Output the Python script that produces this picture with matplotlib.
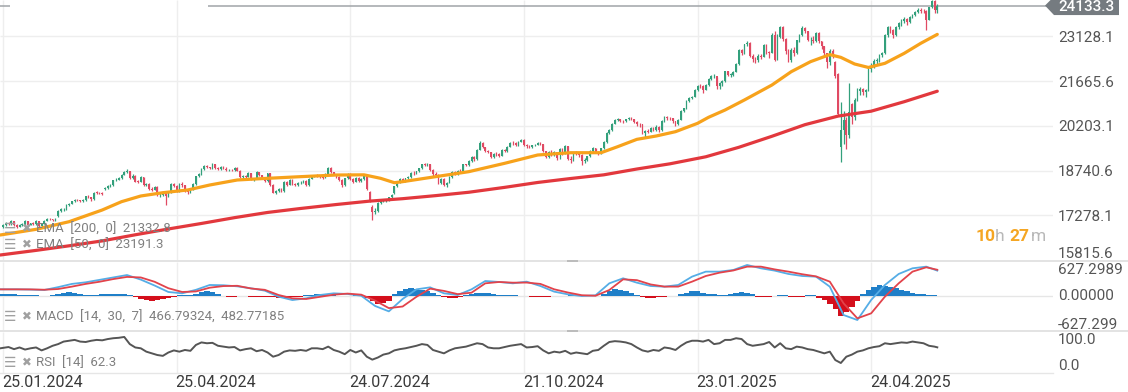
import matplotlib
matplotlib.use("Agg")
import matplotlib.pyplot as plt
from matplotlib.patches import Polygon, Rectangle
import numpy as np

W, H, DPI = 1128, 392, 100

# ---------------- data ----------------
opens = [16890, 16956, 17011, 16992, 17087, 16954, 16909, 16968, 16976, 17083,
         16972, 17013, 16977, 17087, 16931, 16996, 17097, 17167, 17143, 17118,
         17250, 17420, 17469, 17474, 17606, 17651, 17728, 17785, 17766, 17748,
         17766, 17893, 17865, 17796, 18015, 18011, 17992, 18150, 18183, 18233,
         18257, 18417, 18440, 18491, 18610, 18699, 18710, 18497, 18577, 18381,
         18377, 18516, 18271, 18287, 18141, 18112, 18204, 17940, 17940, 18003,
         17899, 18018, 18291, 18238, 18063, 18303, 18256, 18066, 18026, 18127,
         18297, 18548, 18612, 18796, 18879, 18844, 18814, 18963, 18828, 18790,
         18850, 18804, 18754, 18761, 18759, 18837, 18735, 18527, 18546, 18544,
         18650, 18443, 18464, 18682, 18583, 18516, 18387, 18644, 18275, 18008,
         18070, 18131, 18067, 18374, 18281, 18441, 18290, 18268, 18322, 18344,
         18398, 18269, 18477, 18552, 18575, 18570, 18526, 18501, 18626, 18839,
         18679, 18605, 18522, 18437, 18252, 18486, 18636, 18463, 18373, 18490,
         18390, 18479, 18574, 18040, 17560, 17400, 17413, 17672, 17735, 17776,
         17778, 17862, 17990, 18229, 18366, 18463, 18398, 18487, 18531, 18668,
         18650, 18713, 18812, 18940, 18932, 18954, 18769, 18612, 18594, 18319,
         18458, 18279, 18341, 18527, 18706, 18639, 18730, 18713, 18940, 18917,
         19041, 19188, 19106, 19423, 19656, 19503, 19388, 19336, 19184, 19287,
         19267, 19226, 19411, 19364, 19524, 19656, 19631, 19574, 19680, 19740,
         19560, 19550, 19503, 19566, 19584, 19649, 19593, 19368, 19186, 19360,
         19250, 19354, 19300, 19454, 19304, 19534, 19117, 19084, 19341, 19285,
         19260, 19056, 19069, 19209, 19381, 19461, 19348, 19310, 19472, 19669,
         19974, 20054, 20266, 20389, 20413, 20371, 20351, 20417, 20442, 20418,
         20323, 20253, 20246, 19970, 20045, 20006, 20140, 20061, 20174, 20053,
         20360, 20481, 20469, 20453, 20348, 20263, 20399, 20700, 20778, 21023,
         21107, 21157, 21366, 21520, 21501, 21386, 21531, 21736, 21823, 21825,
         21519, 21593, 21670, 21985, 21867, 21877, 21975, 22220, 22681, 22580,
         22862, 22905, 22492, 22371, 22340, 22477, 22458, 22839, 22593, 22591,
         23184, 22362, 23113, 23448, 23036, 22644, 22349, 22695, 22583, 23000,
         23165, 23388, 23293, 23002, 23022, 22980, 23235, 22963, 22801, 22581,
         22281, 22655, 22300, 21900, 19500, 20050, 20386, 19900, 20900, 20474,
         21052, 21349, 21405, 21297, 21384, 22050, 22150, 22326, 22354, 22505,
         22575, 23163, 23418, 23321, 23186, 23420, 23565, 23631, 23700, 23587,
         23753, 23823, 23910, 23990, 23960, 23950, 23676, 24072, 24268, 23973]

highs = [16990, 17050, 17060, 17110, 17100, 16990, 17000, 17020, 17110, 17100,
         17040, 17050, 17110, 17100, 17020, 17120, 17190, 17200, 17170, 17190,
         17440, 17500, 17520, 17630, 17680, 17760, 17820, 17810, 17790, 17800,
         17920, 17930, 17880, 18040, 18060, 18050, 18030, 18210, 18260, 18300,
         18440, 18480, 18520, 18640, 18730, 18800, 18740, 18620, 18600, 18430,
         18550, 18540, 18340, 18320, 18190, 18250, 18220, 18020, 18050, 18030,
         18060, 18320, 18330, 18260, 18340, 18350, 18280, 18110, 18160, 18320,
         18570, 18650, 18820, 18910, 18910, 18870, 18990, 18970, 18860, 18880,
         18880, 18840, 18800, 18800, 18870, 18850, 18750, 18600, 18600, 18700,
         18670, 18500, 18710, 18700, 18600, 18540, 18670, 18650, 18300, 18120,
         18170, 18180, 18400, 18400, 18470, 18460, 18320, 18350, 18400, 18430,
         18420, 18500, 18580, 18610, 18620, 18590, 18560, 18650, 18870, 18850,
         18700, 18640, 18560, 18460, 18510, 18670, 18660, 18500, 18520, 18520,
         18510, 18600, 18600, 18080, 17600, 17520, 17700, 17800, 17820, 17810,
         17890, 17970, 18250, 18400, 18500, 18480, 18510, 18570, 18700, 18720,
         18740, 18830, 18970, 18990, 18990, 18960, 18780, 18680, 18620, 18490,
         18480, 18380, 18560, 18720, 18720, 18760, 18800, 18970, 18970, 19070,
         19210, 19200, 19450, 19690, 19680, 19520, 19420, 19350, 19310, 19330,
         19300, 19430, 19440, 19550, 19680, 19700, 19660, 19700, 19760, 19760,
         19600, 19580, 19590, 19620, 19680, 19670, 19600, 19380, 19380, 19400,
         19380, 19360, 19480, 19470, 19560, 19540, 19200, 19360, 19380, 19310,
         19270, 19150, 19230, 19400, 19520, 19470, 19380, 19490, 19690, 19990,
         20100, 20290, 20420, 20470, 20440, 20400, 20440, 20480, 20480, 20430,
         20350, 20300, 20260, 20080, 20090, 20170, 20150, 20220, 20180, 20390,
         20520, 20520, 20500, 20470, 20350, 20430, 20720, 20800, 21050, 21130,
         21190, 21400, 21550, 21580, 21530, 21560, 21760, 21850, 21900, 21800,
         21640, 21700, 22010, 22000, 21920, 22000, 22250, 22700, 22720, 22890,
         22960, 22930, 22560, 22450, 22560, 22560, 22870, 22880, 22650, 23230,
         23300, 23200, 23480, 23470, 23060, 22700, 22760, 22780, 23020, 23200,
         23480, 23420, 23310, 23100, 23150, 23260, 23280, 22990, 22820, 22590,
         22700, 22720, 22310, 21930, 20980, 20700, 20500, 21600, 20950, 21100,
         21450, 21480, 21440, 21420, 22080, 22250, 22370, 22420, 22540, 22620,
         23200, 23460, 23450, 23380, 23460, 23600, 23680, 23760, 23740, 23780,
         23860, 23960, 24040, 24050, 24010, 24000, 24100, 24300, 24300, 24200]

lows = [16870, 16930, 16960, 16970, 16930, 16870, 16890, 16930, 16950, 16950,
        16950, 16950, 16960, 16880, 16900, 16980, 17080, 17120, 17090, 17090,
        17230, 17390, 17430, 17460, 17580, 17630, 17700, 17730, 17700, 17710,
        17740, 17840, 17760, 17780, 17960, 17960, 17950, 18120, 18150, 18200,
        18240, 18390, 18420, 18470, 18590, 18650, 18470, 18470, 18360, 18320,
        18350, 18240, 18230, 18120, 18070, 18090, 17920, 17880, 17900, 17620,
        17870, 18000, 18200, 18030, 18040, 18210, 18040, 17980, 18000, 18110,
        18280, 18520, 18590, 18770, 18810, 18780, 18800, 18800, 18760, 18770,
        18780, 18730, 18720, 18720, 18740, 18710, 18500, 18470, 18480, 18520,
        18420, 18400, 18450, 18560, 18490, 18350, 18370, 18250, 17990, 17980,
        18040, 18040, 18050, 18250, 18260, 18270, 18230, 18240, 18300, 18320,
        18240, 18250, 18460, 18530, 18530, 18490, 18470, 18480, 18610, 18650,
        18580, 18500, 18400, 18200, 18230, 18470, 18440, 18320, 18350, 18360,
        18360, 18440, 18120, 17700, 17120, 17320, 17390, 17640, 17700, 17720,
        17750, 17840, 17970, 18200, 18340, 18370, 18380, 18460, 18500, 18610,
        18620, 18690, 18790, 18890, 18900, 18740, 18570, 18560, 18300, 18290,
        18220, 18200, 18330, 18500, 18600, 18600, 18650, 18700, 18880, 18880,
        19020, 19060, 19090, 19400, 19470, 19360, 19300, 19150, 19150, 19220,
        19180, 19200, 19330, 19350, 19500, 19590, 19540, 19550, 19660, 19540,
        19480, 19470, 19480, 19540, 19560, 19560, 19340, 19150, 19160, 19230,
        19230, 19100, 19120, 19260, 19290, 19100, 19000, 19060, 19240, 19180,
        18920, 18990, 19040, 19180, 19360, 19300, 19250, 19290, 19450, 19650,
        19950, 20030, 20250, 20360, 20330, 20300, 20330, 20390, 20380, 20300,
        20200, 20150, 19940, 19850, 19960, 19990, 20030, 20030, 20000, 20040,
        20340, 20400, 20390, 20300, 20200, 20230, 20380, 20650, 20760, 20990,
        21070, 21130, 21350, 21450, 21270, 21370, 21500, 21700, 21780, 21420,
        21400, 21520, 21650, 21830, 21810, 21840, 21950, 22200, 22530, 22560,
        22800, 22450, 22300, 22250, 22300, 22380, 22440, 22550, 22430, 22570,
        22320, 22350, 23080, 22980, 22560, 22300, 22300, 22500, 22550, 22950,
        23140, 23220, 22960, 22850, 22900, 22950, 22920, 22700, 22530, 22080,
        22180, 22420, 21780, 20560, 19010, 19600, 19450, 19800, 20250, 20400,
        21000, 21200, 21200, 21150, 21350, 21950, 22080, 22200, 22280, 22440,
        22560, 23120, 23250, 23080, 23130, 23380, 23480, 23560, 23500, 23550,
        23720, 23780, 23880, 23900, 23880, 23330, 23650, 24050, 23900, 23900]

closes = [16956, 17011, 16992, 17087, 16954, 16909, 16968, 16976, 17083, 16972,
          17013, 16977, 17087, 16931, 16996, 17097, 17167, 17143, 17118, 17168,
          17420, 17469, 17474, 17606, 17651, 17728, 17785, 17766, 17748, 17766,
          17893, 17865, 17796, 18015, 18011, 17992, 17986, 18183, 18233, 18257,
          18417, 18440, 18491, 18610, 18699, 18710, 18497, 18577, 18381, 18377,
          18516, 18271, 18287, 18141, 18112, 18204, 17940, 17940, 18003, 17899,
          18018, 18291, 18238, 18063, 18303, 18256, 18066, 18026, 18127, 18297,
          18548, 18612, 18796, 18879, 18844, 18814, 18963, 18828, 18790, 18850,
          18804, 18754, 18761, 18759, 18837, 18735, 18527, 18546, 18544, 18650,
          18443, 18464, 18682, 18583, 18516, 18387, 18644, 18275, 18008, 18070,
          18131, 18067, 18374, 18281, 18441, 18290, 18268, 18322, 18344, 18398,
          18269, 18477, 18552, 18575, 18570, 18526, 18501, 18626, 18839, 18679,
          18605, 18522, 18437, 18252, 18486, 18636, 18463, 18373, 18490, 18390,
          18479, 18574, 18148, 17724, 17400, 17413, 17672, 17735, 17776, 17778,
          17862, 17933, 18229, 18366, 18463, 18398, 18487, 18531, 18668, 18650,
          18713, 18812, 18940, 18932, 18954, 18769, 18612, 18594, 18319, 18458,
          18279, 18341, 18527, 18706, 18639, 18730, 18713, 18940, 18917, 19041,
          19188, 19106, 19423, 19656, 19503, 19388, 19336, 19184, 19287, 19267,
          19226, 19411, 19364, 19524, 19656, 19631, 19574, 19680, 19740, 19560,
          19550, 19503, 19566, 19584, 19649, 19593, 19368, 19186, 19360, 19250,
          19354, 19134, 19454, 19304, 19534, 19117, 19084, 19341, 19285, 19260,
          19056, 19069, 19209, 19381, 19461, 19348, 19310, 19472, 19669, 19974,
          20054, 20266, 20389, 20413, 20371, 20351, 20417, 20442, 20418, 20323,
          20253, 20246, 19970, 20045, 20006, 20140, 20061, 20174, 20053, 20360,
          20481, 20469, 20453, 20348, 20263, 20399, 20700, 20778, 21023, 21107,
          21157, 21366, 21520, 21501, 21386, 21531, 21736, 21823, 21825, 21519,
          21593, 21670, 21985, 21867, 21877, 21975, 22220, 22681, 22580, 22862,
          22905, 22492, 22371, 22340, 22477, 22458, 22839, 22593, 22591, 23184,
          22362, 23113, 23448, 23036, 22644, 22349, 22695, 22583, 23000, 23165,
          23388, 23293, 23002, 23022, 22980, 23235, 22963, 22801, 22581, 22281,
          22655, 22504, 21829, 20600, 20050, 20386, 19900, 20665, 20474, 21052,
          21349, 21405, 21297, 21384, 22050, 22150, 22326, 22354, 22505, 22575,
          23163, 23418, 23321, 23186, 23420, 23565, 23631, 23700, 23587, 23753,
          23823, 23910, 23990, 23960, 23950, 23676, 24072, 24268, 23973, 24133]

ema50_bars = [-1, 12, 24, 36, 43, 50, 58, 67, 75, 85, 96, 108, 121, 131, 137, 142,
              145, 157, 169, 182, 194, 206, 217, 223, 230, 237, 244, 252, 256, 262,
              269, 279, 286, 293, 300, 304, 309, 314, 320, 327, 333, 339]
ema50_vals = [16633, 16818, 17068, 17450, 17722, 17908, 18016, 18104, 18267, 18431,
              18486, 18540, 18594, 18600, 18486, 18343, 18376, 18540, 18703, 18976,
              19248, 19323, 19323, 19519, 19760, 19869, 20010, 20283, 20480, 20719,
              21046, 21536, 21971, 22299, 22530, 22440, 22223, 22110, 22245, 22572,
              22899, 23191]

ema200_bars = [-1, 12, 24, 36, 48, 60, 72, 84, 96, 108, 121, 133, 145, 157, 169,
               182, 194, 206, 218, 230, 242, 255, 267, 279, 291, 303, 315, 327, 339]
ema200_vals = [15979, 16130, 16280, 16440, 16640, 16830, 17010, 17200, 17370, 17500,
               17630, 17740, 17820, 17920, 18030, 18190, 18350, 18480, 18600, 18790,
               18960, 19190, 19500, 19860, 20240, 20520, 20680, 20990, 21333]

macd_bars = [-1] + list(range(5, 340, 5)) + [339]
macd_vals = [119, 119, 115, 107, 160, 220, 250, 295, 340, 385, 300, 190, 70, 45, 110, 200, 195, 175,
             138, 95, -17, -80, -48, 14, 45, 33, 0, -190, -290, -60, 119, 156, 45, 14, 119,
             274, 256, 231, 262, 181, 76, 26, -5, 8, 231, 324, 243, 181, 169, 200, 355, 448,
             448, 479, 572, 510, 467, 405, 367, 355, 169, -358, -451, -79, 200, 405, 510, 541,
             467]
signal_vals = [119, 119, 118, 112, 125, 170, 220, 260, 310, 350, 340, 260, 140, 70, 80, 150, 180, 185,
               135, 110, 14, -48, -60, -20, 20, 40, 20, -90, -230, -200, -20, 132, 90, 30, 57,
               231, 256, 243, 245, 220, 120, 60, 10, 0, 107, 305, 290, 210, 170, 170, 262, 367,
               429, 470, 541, 541, 490, 448, 400, 360, 262, -141, -420, -327, -17, 231, 448, 529,
               483]

hist_bars = list(range(0, 340, 2))
hist_vals = [30, 30, 25, 20,
             10, 15, 10, 0, 0, 10,
             35, 55, 62, 50, 30,
             15, 10, 15,
             25, 30, 30, 35, 30, 20,
             -30, -60, -80, -93, -85, -60, -40, -20,
             10, 10, 15,
             40, 70, 87, 70, 40,
             -10, -15, -15, -10, 0,
             -20, -25, -20, -20, -30,
             -35, -40, -30, -20, -15,
             10, 20, 25, 25, 20,
             10, 0, -10, -10, 5,
             10, -40, -100,
             -150, -140, -90,
             30, 80, 120, 137, 130,
             100, 80, 50, 20,
             -20, -35, -40, -25,
             20, 40, 55, 60,
             50, 30, 15, 10, 10, 5,
             0, -10, -20, -30, -30, -25,
             -10, -5, 0, 5, 5, 0, 5, 5, 0,
             40, 90, 120, 110, 80, 50, 20,
             -20, -35, -40, -30, -20, -10, 0,
             30, 60, 80, 80, 60, 40,
             30, 20, 5,
             30, 60, 76, 60, 30,
             -20, -25, -25, -10,
             10, 10,
             -30, -30, -20,
             10, 5,
             -40, -80, -150, -250, -375, -300, -200, -100,
             40, 100, 160, 200, 190, 170, 140, 110, 80, 60, 40, 30,
             20, 10]

rsi_bars = [-1] + list(range(2, 340, 2)) + [339]
rsi_vals = [60, 63, 58, 62, 57, 60, 62, 55, 60, 66, 70, 76,
            78, 80, 76, 75, 78, 80, 79, 82, 84, 85, 87, 70,
            62, 60, 52, 48, 44, 42, 50, 55, 52, 56, 54, 68,
            74, 72, 73, 66, 64, 62, 63, 55, 58, 60, 53, 56,
            50, 40, 44, 52, 55, 54, 56, 54, 60, 60, 58, 64,
            56, 52, 46, 56, 50, 55, 40, 33, 38, 45, 48, 55,
            58, 60, 63, 66, 70, 68, 56, 52, 48, 55, 60, 62,
            64, 68, 72, 70, 62, 60, 60, 63, 66, 68, 70, 62,
            63, 65, 55, 48, 52, 50, 54, 47, 50, 48, 46, 54,
            56, 66, 75, 77, 76, 74, 70, 62, 55, 52, 56, 54,
            62, 60, 56, 66, 74, 78, 78, 76, 80, 70, 72, 80,
            80, 84, 82, 70, 66, 68, 70, 75, 62, 72, 60, 58,
            64, 62, 58, 56, 52, 48, 52, 32, 25, 40, 45, 52,
            55, 60, 63, 65, 72, 70, 72, 74, 73, 76, 74, 72,
            66, 64, 62.3]

price_ticks = [15815.6, 17278.1, 18740.6, 20203.1, 21665.6, 23128.1]
price_labels = ["15815.6", "17278.1", "18740.6", "20203.1", "21665.6", "23128.1"]
date_bars = [0, 63, 126, 189, 252, 315]
date_labels = ["25.01.2024", "25.04.2024", "24.07.2024", "21.10.2024", "23.01.2025", "24.04.2025"]
last_price = 24133.3
macd_axis = 627.2989

# ---------------- style ----------------
plt.rcParams['font.family'] = ['Roboto', 'DejaVu Sans']
GREEN = '#33a07c'
RED_C = '#e04a63'
ORANGE = '#f7a21b'
RED_EMA = '#e2383d'
GRID = '#eeeeee'
BLUE_H = '#1f7fc8'
RED_H = '#d40f1c'
MACD_C = '#55ade6'
SIG_C = '#e2434b'
LBL = '#555555'
LEG = '#808080'

PXB = 2.756          # pixels per bar
X0 = 3.0             # pixel of bar 0
AX_RIGHT = 1053
XLIM = ((0 - X0) / PXB, (AX_RIGHT - X0) / PXB)

fig = plt.figure(figsize=(W / DPI, H / DPI), dpi=DPI)
fig.patch.set_facecolor('white')


def add_ax(y0, y1, x0=0, x1=AX_RIGHT):
    ax = fig.add_axes([x0 / W, 1 - y1 / H, (x1 - x0) / W, (y1 - y0) / H])
    ax.set_xlim(*XLIM)
    ax.axis('off')
    return ax


# ---------------- main price panel ----------------
ax = add_ax(0, 260)
ax.set_ylim(15815.6, 24315.0)
ax.vlines(date_bars, 15815.6, 24315.0, color=GRID, lw=1, zorder=0)
ax.hlines(price_ticks[1:], XLIM[0], XLIM[1], color=GRID, lw=1, zorder=0)

idx = np.arange(len(closes))
o = np.array(opens, float)
c = np.array(closes, float)
hi = np.array(highs, float)
lo = np.array(lows, float)
cols = np.where(c >= o, GREEN, RED_C)
ax.vlines(idx, lo, hi, colors=cols, lw=0.9, zorder=3)
ax.bar(idx, np.maximum(np.abs(c - o), 14), bottom=np.minimum(o, c), width=0.62,
       color=cols, lw=0, zorder=3)

ax.plot(ema200_bars, ema200_vals, color=RED_EMA, lw=2.3, zorder=4, solid_capstyle='round')
ax.plot(ema50_bars, ema50_vals, color=ORANGE, lw=2.3, zorder=4, solid_capstyle='round')

ax.hlines(last_price, (208 - X0) / PXB, XLIM[1], color='#a0a4a8', lw=1.1, zorder=2)
ax.hlines(last_price, XLIM[0], (10 - X0) / PXB, color='#a0a4a8', lw=1.1, zorder=2)

# ---------------- MACD panel ----------------
am = add_ax(262, 329.5)
am.set_ylim(-macd_axis, macd_axis)
am.vlines(date_bars, -macd_axis, macd_axis, color=GRID, lw=1, zorder=0)
am.axhline(0, color='#e6e6e6', lw=1, zorder=0)
hv = np.array(hist_vals, float)
am.bar(hist_bars, hv, width=2.0, color=np.where(hv >= 0, BLUE_H, RED_H), lw=0, zorder=2)
am.plot(macd_bars, macd_vals, color=MACD_C, lw=1.3, zorder=3)
am.plot(macd_bars, signal_vals, color=SIG_C, lw=1.3, zorder=4)

# ---------------- RSI panel ----------------
ar = add_ax(331.5, 373.5)
ar.set_ylim(0, 100)
ar.vlines(date_bars, 0, 100, color=GRID, lw=1, zorder=0)
ar.plot(rsi_bars, rsi_vals, color='#555555', lw=1.4, zorder=3)

# ---------------- overlay (pixel coordinates) ----------------
ov = fig.add_axes([0, 0, 1, 1])
ov.set_xlim(0, W)
ov.set_ylim(H, 0)
ov.axis('off')
ov.patch.set_alpha(0)

# panel separators
for ys in (259.5, 329.8):
    ov.add_patch(Rectangle((0, ys), W, 2.4, color='#e3e3e3', lw=0))
    ov.add_patch(Rectangle((567, ys + 0.6), 11, 2.0, color='#bcbcbc', lw=0))
ov.plot([0, AX_RIGHT], [373.3, 373.3], color='#e6e6e6', lw=1)


def ypix_main(p):
    return (24315.0 - p) / (24315.0 - 15815.6) * 260


# price axis labels
for p, s in zip(price_ticks, price_labels):
    y = ypix_main(p) + 1.5
    if p == price_ticks[0]:
        y = 254.5
    ov.text(1058, y, s, ha='left', va='center', fontsize=11, color=LBL)

# last price tag
yt = ypix_main(last_price)
ov.add_patch(Polygon([(1045, yt), (1054, yt - 9), (1119, yt - 9), (1119, yt + 9.5), (1054, yt + 9.5)],
                     closed=True, color='#757b80', lw=0))
ov.text(1086, yt + 1.5, "24133.3", ha='center', va='center', fontsize=11, color='white',
        fontweight='medium')

# MACD & RSI axis labels
ov.text(1058, 269.5, "627.2989", ha='left', va='center', fontsize=11, color=LBL)
ov.text(1058, 295.5, "0.00000", ha='left', va='center', fontsize=11, color=LBL)
ov.text(1058, 325.0, "-627.299", ha='left', va='center', fontsize=11, color=LBL)
ov.text(1058, 340.5, "100.0", ha='left', va='center', fontsize=11, color=LBL)
ov.text(1058, 366.5, "0.0", ha='left', va='center', fontsize=11, color=LBL)

# date labels
for b, s in zip(date_bars, date_labels):
    ov.text(X0 + b * PXB - 1, 382.5, s, ha='left', va='center', fontsize=11.5, color='#3a3a3a')

# legends
legend_rows = [(229, "EMA  [200,  0]  21332.8"),
               (245, "EMA  [50,  0]  23191.3"),
               (317, "MACD  [14,  30,  7]  466.79324,  482.77185"),
               (363, "RSI  [14]  62.3")]
for y, s in legend_rows:
    ov.text(4, y, "\u2630", ha='left', va='center', fontsize=10, color='#a0a0a0',
            family=['DejaVu Sans'])
    ov.text(22, y, "\u2716", ha='left', va='center', fontsize=8.5, color='#a0a0a0',
            family=['DejaVu Sans'])
    ov.text(36, y, s, ha='left', va='center', fontsize=9.5, color=LEG)

# countdown
ov.text(976, 236.5, "10", ha='left', va='center', fontsize=12.5, color='#f5a623', fontweight='bold')
ov.text(995, 236.5, "h", ha='left', va='center', fontsize=12.5, color='#b8b8b8')
ov.text(1009, 236.5, "27", ha='left', va='center', fontsize=12.5, color='#f5a623', fontweight='bold')
ov.text(1031, 236.5, "m", ha='left', va='center', fontsize=12.5, color='#b8b8b8')

fig.savefig("out.png", dpi=DPI, facecolor='white')
